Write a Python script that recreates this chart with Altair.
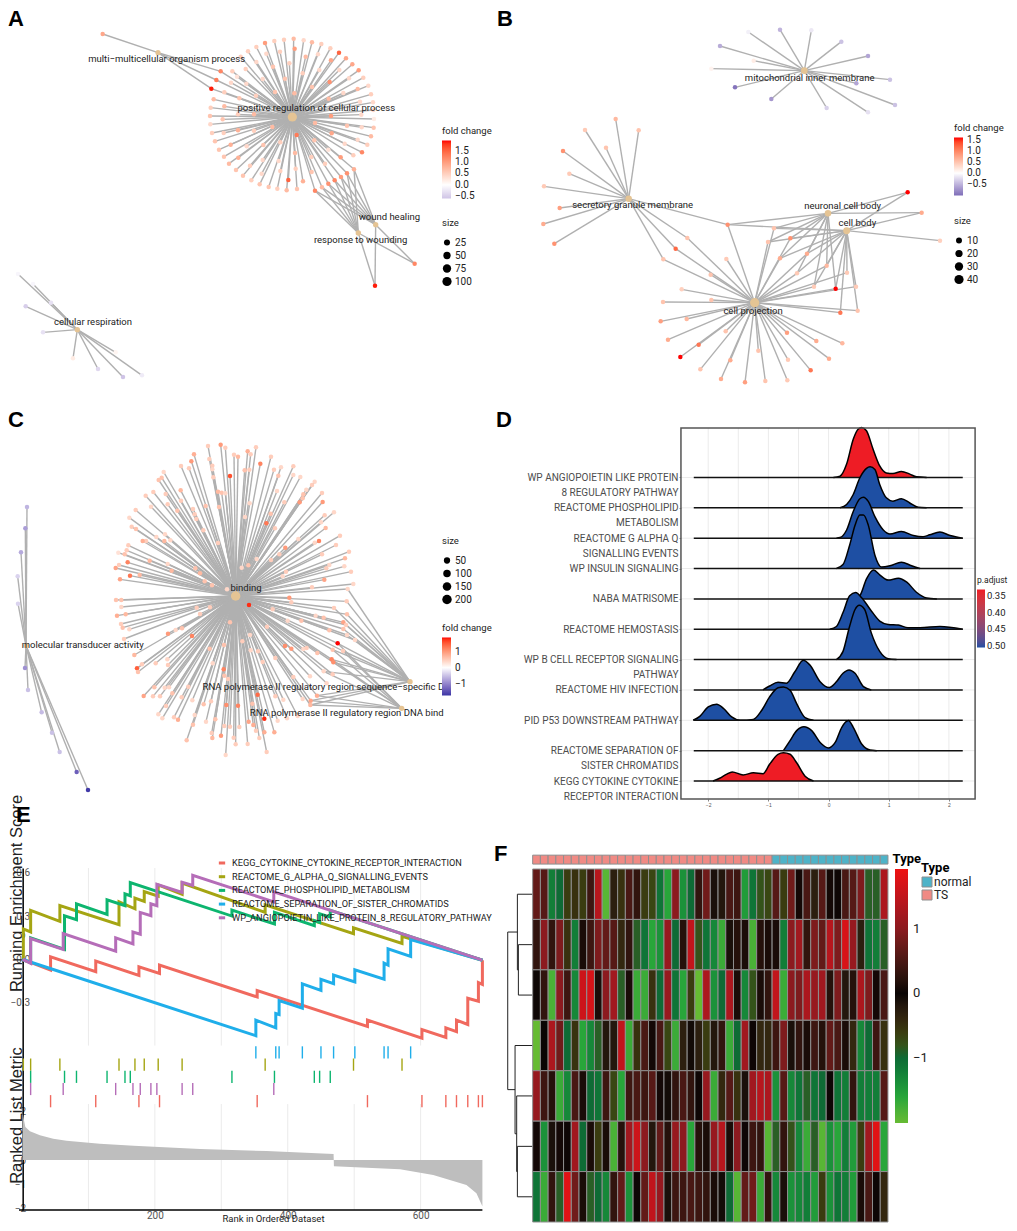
import json
import altair as alt
import pandas as pd

NARROW = "Roboto, sans-serif"
SANS = "Liberation Sans, Arial, sans-serif"
EDGE = "#B0B0B0"
TAN = "#E5C494"
W1, W2 = 492, 510

# ---------- panel A: gene-concept network (layout coordinates, fold change)
a_cats = {"pos": (877, 351, 100), "multi": (474, 158, 9), "wound": (1127, 674, 12), "resp": (1075, 699, 14), "cell": (232, 989, 12)}
a_labels = [("multi\u2212multicellular organism process", 500, 177), ("positive regulation of cellular process", 949, 325),
            ("wound healing", 1168, 652), ("response to wounding", 1082, 719), ("cellular respiration", 279, 967)]
a_pos = [(881,116,.7),(911,121,.4),(936,127,.7),(964,132,.5),(991,145,.5),(1017,158,1.5),(1038,175,.9),(1057,193,.9),(1076,211,1.0),(1090,233,.5),
 (1105,257,.4),(1113,283,.5),(1119,307,.4),(1120,330,.4),(1122,357,.2),(1121,383,.6),(1113,409,.7),(1102,434,.5),(1086,457,1.2),(1060,466,.5),
 (909,544,.8),(891,567,.6),(860,571,.7),(832,566,.5),(806,561,.6),(779,553,.6),(754,541,.5),(729,527,.6),(708,510,.6),(687,491,.7),(672,470,.6),
 (657,449,.6),(645,424,.6),(636,399,.5),(631,373,.4),(630,348,.6),(632,323,.5),(641,298,.7),(697,214,.5),(722,170,.5),(744,154,.5),(769,141,.5),
 (795,129,1.0),(823,123,.5),(852,119,.5),(884,146,1.0),(917,170,.7),(954,163,.4),(993,181,.9),(840,155,.5),(799,161,.4),(769,186,.4),(737,207,.5),
 (711,230,.3),(693,248,.4),(673,277,.5),(718,295,.6),(673,319,.7),(668,358,.6),(671,399,.5),(692,434,.8),(715,473,.8),(750,497,.5),(785,521,.4),
 (868,190,.5),(819,200,.6),(788,237,.4),(739,251,.4),(855,236,.6),(908,220,.5),(958,210,.4),(1018,210,.4),(1047,235,.4),(989,246,1.1),(936,261,.6),
 (1030,279,.4),(1073,267,.7),(883,280,.7),(825,276,.6),(768,287,.5),(986,296,.7),(1080,305,.4),(714,343,.5),(762,343,.7),(993,348,1.0),(1084,344,.4),
 (945,369,.7),(1041,377,.6),(1085,382,.4),(817,381,.7),(714,391,.8),(762,392,.5),(890,405,1.3),(995,400,.9),(1073,419,.4),(1034,431,.4),(943,421,.6),
 (841,427,.5),(790,435,.6),(740,439,.4),(985,449,.3),(1022,472,1.0),(885,459,.7),(934,471,.5),(788,480,.4),(836,483,.4),(975,491,.5),(887,506,.5),
 (935,516,.6),(841,513,.5),(865,540,1.5)]
a_pos_multi = [(634,266,1.9),(649,240,1.3),(662,214,1.2)]
a_multi = [(308,102,.9)]
a_pos_wound = [(945,572,1.2),(966,562,.7),(985,551,1.1),(1004,541,1.2),(1023,531,1.0),(1041,520,1.1),(1062,508,.8)]
a_wound = [(1244,791,1.2),(1125,857,1.9)]
a_cell = [(54,822,-.1),(99,852,-.1),(153,908,-.3),(77,919,-.5),(129,997,-.3),(219,1075,.2),(294,1107,-.4),(369,1131,-.6),(426,1126,-.2),(347,1057,.1)]
a_groups = [(["pos"], a_pos), (["pos", "multi"], a_pos_multi), (["multi"], a_multi), (["pos", "wound", "resp"], a_pos_wound),
            (["wound", "resp"], a_wound), (["cell"], a_cell)]

# ---------- panel B
b_cats = {"mito": (913, 212, 15), "sec": (386, 596, 14), "neu": (984, 640, 15), "body": (1040, 692, 18), "proj": (764, 908, 40)}
b_labels = [("mitochondrial inner membrane", 929, 234), ("secretory granule membrane", 398, 616), ("neuronal cell body", 1028, 618),
            ("cell body", 1072, 669), ("cell projection", 759, 932)]
b_mito = [(745,96,-.1),(840,89,-.5),(934,91,-.15),(1024,125,-.4),(1104,168,-.6),(660,138,-.55),(761,182,.15),(634,206,.1),(705,262,-.95),(814,297,-.7),
          (1170,239,-.4),(1069,250,-.6),(1185,315,-.4),(980,324,-.3),(1104,337,-.2)]
b_sec = [(347,357,.6),(255,390,.45),(416,391,.5),(318,443,.5),(189,453,.9),(208,521,.45),(132,559,.45),(179,624,.8),(130,672,.7),(163,731,.9)]
b_sec_proj = [(562,714,.5),(527,746,1.2),(490,778,.5)]
b_all = [(683,674,.9)]
b_proj = [(679,777,.45),(632,824,.5),(545,868,.4),(489,906,.5),(634,900,.5),(482,964,.8),(560,957,.6),(504,1019,.7),(677,994,.5),(596,1034,1.1),(541,1071,1.6),
          (601,1108,.5),(691,1081,.7),(663,1137,.7),(735,1147,.8),(775,1052,.5),(796,1143,.5),(864,1079,.45),(862,1141,.45),(861,998,.8),(932,1111,1.1),(949,1023,.7),
          (987,1076,.7),(1027,1030,.6)]
b_nbp = [(822,685,.5),(804,726,.5),(871,715,.9),(840,775,.7),(921,761,.7),(980,797,.6),(891,820,.45),(942,860,.45),(1007,866,1.6)]
b_bp = [(1041,818,.45),(1068,860,.45),(1073,932,.5),(1021,938,1.1)]
b_nb = [(1223,577,1.6),(1265,638,.7)]
b_body = [(1320,722,.4)]
b_groups = [(["mito"], b_mito), (["sec"], b_sec), (["sec", "proj"], b_sec_proj), (["sec", "neu", "body", "proj"], b_all), (["proj"], b_proj),
            (["neu", "body", "proj"], b_nbp), (["body", "proj"], b_bp), (["neu", "body"], b_nb), (["body"], b_body)]

# ---------- panel C
c_cats = {"bind": (707, 588, 200), "mol": (78, 737, 12), "rna1": (1230, 845, 20), "rna2": (1205, 925, 20)}
c_labels = [("binding", 738, 563), ("molecular transducer activity", 248, 736), ("RNA polymerase II regulatory region sequence\u2212specific DI", 974, 861),
            ("RNA polymerase II regulatory region DNA bind", 1040, 938)]
c_mol = [(81,321,-.6),(76,385,-.8),(63,457,-.7),(53,529,-.35),(54,611,-.35),(75,804,-.9),(84,870,-.5),(125,937,-.55),(156,998,-.5),(179,1056,-.5),(230,1116,-1.35),(264,1170,-1.7)]
c_bind = [(624,138,.5),(662,134,1.0),(676,143,.5),(582,163,.8),(702,164,.5),(714,170,.7),(743,154,.8),(768,142,.5),(752,163,.5),(781,191,1.2),(813,170,.5),(574,184,1.0),
 (628,177,.5),(637,197,.5),(543,198,.5),(567,205,.5),(690,228,1.6),(734,211,.6),(748,209,.5),(822,209,.5),(843,202,.4),(880,199,.5),(491,216,.4),(485,233,.6),(476,240,.6),(637,208,.4),
 (640,232,.5),(880,225,.4),(835,227,.6),(901,231,.4),(944,245,.4),(936,255,.5),(919,269,.4),(910,283,.6),(908,295,.6),(831,273,.4),(460,276,.5),(497,282,.5),(542,271,.7),(654,275,.7),
 (665,278,.6),(676,280,.4),(437,287,.5),(543,302,.5),(503,313,.5),(453,320,.4),(617,318,.6),(657,321,.6),(749,310,.4),(853,307,.5),(899,307,1.0),(968,306,1.0),(966,279,.5),(407,330,.5),
 (532,332,.6),(579,327,.5),(584,343,.5),(974,346,.5),(1002,337,.4),(388,353,.4),(589,357,.5),(735,351,.4),(812,341,.6),(963,367,.4),(799,370,1.3),(395,380,.5),(408,387,.6),(610,391,.5),
 (825,385,.5),(977,384,.7),(438,423,.5),(428,423,.8),(469,411,.4),(495,403,.4),(493,423,.7),(511,421,.4),(654,429,.5),(895,417,.4),(944,428,.4),(957,423,1.2),(1020,407,.5),(1008,435,.5),
 (385,436,.5),(380,451,.5),(355,458,.3),(374,463,.6),(856,443,1.0),(838,463,.5),(966,463,.5),(770,477,.4),(813,480,.5),(1047,455,.5),(1035,475,.7),(383,487,1.2),(449,482,.7),(503,492,.4),
 (725,503,.4),(745,496,.6),(988,495,.4),(979,505,.5),(1033,499,.4),(347,504,.9),(357,495,.5),(586,505,.6),(515,512,.7),(600,520,.7),(858,515,.5),(848,529,.4),(1053,515,.5),(390,527,1.3),
 (419,525,.7),(360,538,.9),(614,544,.6),(636,556,.6),(973,539,.9),(1060,552,.4),(936,562,.5),(1043,567,.4),(681,568,.4),(868,593,1.0),(874,607,.5),(747,615,1.8),(348,600,.6),(364,600,.6),
 (364,621,.4),(1040,604,.5),(590,623,.5),(630,622,.5),(818,628,.5),(1002,624,.5),(1041,643,.6),(351,647,.8),(377,643,.7),(600,642,.5),(947,647,.4),(971,653,.6),(1030,667,.9),(1038,675,.5),
 (863,662,.4),(904,662,.6),(690,667,.6),(363,672,.5),(368,683,.6),(388,688,.4),(801,680,.5),(546,685,.6),(527,690,.4),(504,701,1.0),(1030,687,.6),(988,691,.6),(750,705,.4),(1041,705,.4),
 (576,708,1.2),(1065,720,.4),(372,717,.5),(1013,730,1.9),(727,724,.5),(672,735,.6),(855,738,1.1),(874,746,1.0),(910,747,.4),(920,744,.5),(952,759,.6),(998,749,.6),(1029,753,.5),(629,746,.6),
 (752,751,.4),(774,754,.5),(403,765,.7),(826,774,.5),(995,778,1.2),(1000,787,1.1),(502,778,.4),(426,793,.5),(467,790,.5),(411,805,1.5),(414,816,.6),(504,795,.5),(638,790,.4),(671,808,1.2),
 (788,786,.5),(971,814,.4),(998,823,.5),(673,827,.6),(684,837,.5),(880,831,.5),(930,829,.4),(980,850,.4),(463,862,.6),(494,863,.4),(507,862,.4),(565,860,.5),(517,880,.6),(773,884,1.4),
 (826,889,.5),(431,888,.9),(459,889,.5),(480,889,.5),(545,892,.5),(577,901,.4),(633,904,.5),(611,913,.6),(757,911,.6),(679,915,1.1),(714,917,1.2),(850,899,.4),(908,897,.4),(951,887,.8),
 (932,902,.9),(931,915,.7),(498,918,.5),(475,943,.4),(487,955,.4),(522,952,.5),(534,959,.8),(584,945,.4),(618,965,.4),(646,958,.6),(746,965,.9),(760,975,.8),(793,956,1.8),(833,962,.4),
 (861,955,.4),(893,948,.4),(579,974,.6),(673,978,.5),(690,980,.5),(718,981,.5),(768,992,.5),(635,999,.5),(637,1014,.7),(663,1007,1.0),(701,1013,.5),(778,1014,.5),(793,997,.8),(823,997,.8),
 (560,1021,.6),(707,1033,.5),(743,1032,.5),(677,1065,.4),(800,1056,.5)]
c_rna_nodes = [(1043,567),(1040,604),(1041,643),(1030,667),(1038,675),(1030,687),(1002,624),(1041,705),(1065,720),(1013,730),(998,749),(1029,753),(995,778),(1000,787),(971,814),(951,887),(932,902),(931,915)]
c_groups = [(["mol"], c_mol), (["bind"], c_bind)]
c_extra_edges = [(x, y, "rna1") for x, y in c_rna_nodes] + [(x, y, "rna2") for x, y in c_rna_nodes[9:]]

LEG = dict(titleFont=NARROW, titleFontSize=9.5, titleFontWeight="normal", titleColor="#222", labelFont=NARROW, labelFontSize=10, labelColor="#222")


def legend_fold(x, y, values, fmt):
    return alt.Legend(orient="none", legendX=x, legendY=y, title="fold change", values=values, gradientLength=58, gradientThickness=9,
                      titlePadding=5, labelOffset=4, gradientStrokeWidth=0, labelOverlap=False, format=fmt, **LEG)


def legend_size(x, y, values):
    return alt.Legend(orient="none", legendX=x, legendY=y, title="size", values=values, symbolOpacity=1, symbolStrokeWidth=0,
                      titlePadding=10, labelOffset=3, rowPadding=3, **LEG)


def network(groups, cats, labels, domx, domy, w, h, cscale, sscale, lfold, lsize, extra=()):
    nodes, edges = [], []
    for members, genes in groups:
        for g in genes:
            nodes.append({"x": g[0], "y": g[1], "fc": g[2]})
            for m in members:
                edges.append({"x": g[0], "y": g[1], "x2": cats[m][0], "y2": cats[m][1]})
    for x, y, m in extra:
        edges.append({"x": x, "y": y, "x2": cats[m][0], "y2": cats[m][1]})
    cdf = pd.DataFrame([{"x": v[0], "y": v[1], "size": v[2]} for v in cats.values()])
    tdf = pd.DataFrame([{"t": t, "x": x, "y": y} for t, x, y in labels])
    X = alt.X("x:Q", scale=alt.Scale(domain=domx), axis=None)
    Y = alt.Y("y:Q", scale=alt.Scale(domain=domy), axis=None)
    e = alt.Chart(pd.DataFrame(edges)).mark_rule(color=EDGE, strokeWidth=1.4).encode(X, Y, x2="x2:Q", y2="y2:Q")
    n = alt.Chart(pd.DataFrame(nodes)).mark_circle(size=20, opacity=1).encode(X, Y, color=alt.Color("fc:Q", scale=cscale, legend=lfold))
    s = alt.Chart(cdf).mark_circle(color="black", opacity=0).encode(X, Y, size=alt.Size("size:Q", scale=sscale, legend=lsize))
    c = alt.Chart(cdf).mark_circle(color=TAN, opacity=1).encode(X, Y, size=alt.Size("size:Q", scale=sscale, legend=None))
    t = alt.Chart(tdf).mark_text(font=NARROW, fontSize=9.5, color="#222").encode(X, Y, text="t:N")
    return [e, n, s, c, t]


def letter(s, x, y):
    return alt.Chart(pd.DataFrame({"t": [s]})).mark_text(font=SANS, fontSize=22, fontWeight="bold", color="black", align="left", baseline="top").encode(
        x=alt.value(x), y=alt.value(y), text="t:N")


def fc_scale(lo, hi, locol):
    return alt.Scale(domain=[lo, 0, hi], range=[locol, "#FFFFFF", "#FF0000"], interpolate="lab")


A = alt.layer(*network(a_groups, a_cats, a_labels, [24, 1500], [1077, 24], W1, 351, fc_scale(-.6, 1.95, "#CFC4E6"),
            alt.Scale(domain=[5, 100], range=[24, 85]), legend_fold(434, 118, [-.5, 0, .5, 1, 1.5], ".1f"), legend_size(434, 210, [25, 50, 75, 100])),
              letter("A", 0, 1)).properties(width=W1, height=351)
B = alt.layer(*network(b_groups, b_cats, b_labels, [0, 1530], [1077, 24], W2, 351, fc_scale(-1.0, 1.6, "#7E6DB8"),
            alt.Scale(domain=[3, 40], range=[24, 85]), legend_fold(454, 115, [-.5, 0, .5, 1, 1.5], ".1f"), legend_size(454, 208, [10, 20, 30, 40])),
              letter("B", -3, 1)).properties(width=W2, height=351)
C = alt.layer(*network(c_groups, c_cats, c_labels, [24, 1500], [1197, 84], W1, 371, fc_scale(-1.75, 1.9, "#3A35A5"),
            alt.Scale(domain=[5, 200], range=[24, 90]), legend_fold(434, 195, [-1, 0, 1], "d"), legend_size(434, 108, [50, 100, 150, 200]), c_extra_edges),
              letter("C", 0, -18)).properties(width=W1, height=371)

# ---------- panel D: ridgeline
d_terms = [["KEGG CYTOKINE CYTOKINE", "RECEPTOR INTERACTION"], ["REACTOME SEPARATION OF", "SISTER CHROMATIDS"], ["PID P53 DOWNSTREAM PATHWAY"],
           ["REACTOME HIV INFECTION"], ["WP B CELL RECEPTOR SIGNALING", "PATHWAY"], ["REACTOME HEMOSTASIS"], ["NABA MATRISOME"], ["WP INSULIN SIGNALING"],
           ["REACTOME G ALPHA Q", "SIGNALLING EVENTS"], ["REACTOME PHOSPHOLIPID", "METABOLISM"], ["WP ANGIOPOIETIN LIKE PROTEIN", "8 REGULATORY PATHWAY"]]
d_padj = [.33, .505, .505, .505, .505, .505, .505, .505, .505, .505, .33]
d_ridge = {
 11: ([.08,.19,.30,.41,.49,.55,.63,.74,.85,.96,1.07,1.21,1.35,1.46,1.63], [0,.04,.44,1.26,1.59,1.65,1.54,.93,.38,.15,.13,.20,.11,.02,0]),
 10: ([.19,.30,.41,.52,.63,.69,.77,.85,.96,1.07,1.21,1.35,1.49,1.63], [0,.11,.44,.99,1.30,1.35,1.26,.77,.33,.22,.30,.16,.02,0]),
 9: ([.13,.19,.30,.41,.52,.58,.66,.77,.91,1.02,1.21,1.41,1.57,1.68,1.85,2.02,2.23], [0,.02,.27,.88,1.30,1.35,1.21,.71,.27,.14,.22,.09,.05,.11,.20,.09,0]),
 8: ([.13,.24,.35,.44,.52,.58,.66,.77,.88,1.02,1.21,1.38,1.52], [0,.13,.77,1.43,1.76,1.76,1.43,.44,.05,.09,.21,.09,0]),
 7: ([.41,.52,.63,.75,.85,.99,1.16,1.30,1.46,1.63,1.80], [0,.11,.66,.95,.79,.62,.68,.55,.22,.03,0]),
 6: ([.02,.13,.24,.35,.45,.55,.69,.85,.99,1.16,1.32,1.52,1.85,2.23], [0,.09,.55,1.10,1.21,1.04,.66,.27,.16,.14,.05,.05,.09,0]),
 5: ([.13,.24,.35,.44,.51,.60,.71,.85,.99,1.13], [0,.27,1.10,1.65,1.79,1.65,.88,.27,.03,0]),
 4: ([-1.09,-.98,-.84,-.70,-.56,-.42,-.31,-.14,.01,.13,.24,.34,.44,.58,.71], [0,.13,.25,.22,.60,.98,.82,.27,.08,.27,.55,.66,.55,.11,0]),
 3: ([-2.25,-2.14,-2.0,-1.86,-1.74,-1.61,-1.47,-1.25,-1.11,-.98,-.84,-.75,-.64,-.53,-.39,-.25], [0,.13,.44,.53,.38,.11,0,.03,.33,.77,1.07,1.10,.99,.55,.09,0]),
 2: ([-.75,-.64,-.53,-.41,-.28,-.14,0,.11,.22,.33,.41,.55,.69,.80], [0,.33,.66,.79,.66,.27,.09,.27,.77,.99,.77,.22,.02,0]),
 1: ([-1.92,-1.81,-1.70,-1.60,-1.42,-1.25,-1.09,-.98,-.84,-.75,-.64,-.53,-.39,-.25], [0,.09,.22,.30,.20,.27,.24,.55,.88,.93,.88,.60,.16,0]),
}
d_grid_x = [-2, -1.5, -1, -.5, 0, .5, 1, 1.5, 2]
d_xdom, d_ydom = [-5.46, 3.015], [.407, 12.63]
d_ax = alt.Axis(values=[-2, -1, 0, 1, 2], domain=False, grid=False, title=None, labelFontSize=5, labelColor="#555", tickSize=2, labelPadding=1, format="d")
d_ay = alt.Axis(values=list(range(1, 12)), orient="left", offset=-181, domain=False, grid=False, title=None, tickSize=2,
                labelFont=NARROW, labelFontSize=10, labelColor="#4D4D4D", labelLineHeight=15, labelOverlap=False, labelPadding=1, labelBound=False, labelFlush=False, labelLimit=300,
                labelExpr=json.dumps(d_terms) + "[datum.value-1]")
dX = lambda f="x": alt.X(f"{f}:Q", scale=alt.Scale(domain=d_xdom), axis=d_ax)
dY = lambda f="y": alt.Y(f"{f}:Q", scale=alt.Scale(domain=d_ydom), axis=d_ay)
d_color = alt.Color("p:Q", scale=alt.Scale(domain=[-.505, -.33], range=["#1E4FA3", "#EE1C25"], interpolate="lab"),
                    legend=alt.Legend(orient="none", legendX=477, legendY=148, title="p.adjust", values=[-.35, -.40, -.45, -.50], gradientLength=58, gradientThickness=8,
                                      titlePadding=5, labelOffset=2, labelExpr="format(-datum.value,'.2f')", gradientStrokeWidth=0, labelOverlap=False, **{**LEG, "titleFontSize": 8.5, "labelFontSize": 9.5}))
d_layers = [
    alt.Chart(pd.DataFrame({"x": d_grid_x, "y": [d_ydom[0]] * 9, "y2": [d_ydom[1]] * 9})).mark_rule(color="#EBEBEB", strokeWidth=1).encode(dX(), dY(), y2="y2:Q"),
    alt.Chart(pd.DataFrame({"x": [-2.453] * 11, "x2": [2.435] * 11, "y": list(range(1, 12))})).mark_rule(color="#EBEBEB", strokeWidth=1).encode(dX(), dY(), x2="x2:Q"),
]
for lane in range(11, 0, -1):
    xs, hs = d_ridge[lane]
    df = pd.DataFrame({"x": xs, "y": [lane + h for h in hs], "y0": [lane] * len(xs), "p": [-d_padj[lane - 1]] * len(xs)})
    d_layers.append(alt.Chart(df).mark_area(interpolate="monotone", opacity=1).encode(dX(), dY(), y2="y0:Q", color=d_color))
    d_layers.append(alt.Chart(df).mark_line(interpolate="monotone", color="black", strokeWidth=1.5).encode(dX(), dY()))
    d_layers.append(alt.Chart(pd.DataFrame({"x": [-2.24], "x2": [2.23], "y": [lane]})).mark_rule(color="#111", strokeWidth=1.5).encode(dX(), dY(), x2="x2:Q"))
d_layers.append(alt.Chart(pd.DataFrame({"x": [-2.453], "x2": [2.435], "y": [d_ydom[0]], "y2": [d_ydom[1]]})).mark_rect(fillOpacity=0, stroke="#555", strokeWidth=1.5).encode(dX(), dY(), x2="x2:Q", y2="y2:Q"))
D = alt.layer(*d_layers, letter("D", -4, -18)).properties(width=W2, height=371)

# ---------- panel E: GSEA
e_names = ["KEGG_CYTOKINE_CYTOKINE_RECEPTOR_INTERACTION", "REACTOME_G_ALPHA_Q_SIGNALLING_EVENTS", "REACTOME_PHOSPHOLIPID_METABOLISM",
           "REACTOME_SEPARATION_OF_SISTER_CHROMATIDS", "WP_ANGIOPOIETIN_LIKE_PROTEIN_8_REGULATORY_PATHWAY"]
e_colors = ["#F0695E", "#A5A513", "#0DB56F", "#1FAEEA", "#B56DB8"]
e_red = [(43,-.073,.018),(111,-.085,-.011),(176,-.110,-.050),(207,-.096,-.039),(354,-.259,-.215),(520,-.463,-.419),(602,-.543,-.485),(638,-.538,-.472),(654,-.499,-.419),(671,-.449,-.268),(687,-.289,-.160),(693,-.172,-.005)]
e_blue = [(352,-.527,-.419),(382,-.472,-.373),(387,-.380,-.284),(422,-.337,-.169),(450,-.213,-.137),(469,-.167,-.108),(501,-.156,-.071),(545,-.137,-.025),(551,-.039,.073),(585,.021,.137)]
e_olive = [(2,0,.211),(13,.190,.339),(57,.263,.373),(146,.240,.398),(170,.350,.424),(184,.401,.469),(205,.437,.515),(241,.451,.527),(366,.325,.378),(499,.179,.218),(572,.110,.160)]
e_green = [(13,-.023,.149),(64,.069,.302),(82,.275,.385),(128,.311,.412),(155,.371,.453),(163,.440,.531),(316,.300,.341),(380,.245,.325),(440,.234,.268),(448,.256,.316),(464,.293,.339)]
e_purple = [(13,-.027,.144),(62,.069,.179),(141,.057,.149),(167,.108,.190),(178,.174,.325),(194,.302,.385),(203,.371,.520),(241,.463,.534),(257,.511,.582),(379,.398,.467)]
e_series = [e_red, e_olive, e_green, e_blue, e_purple]
e_rug_lane = [4, 1, 2, 0, 3]
e_rank = [1,3,5,12,27,47,67,117,168,268,368,469,469.5,569,619,669,684,693]
e_metric = [1.97,1.63,1.36,1.18,1.02,.88,.79,.67,.585,.45,.37,.245,-.25,-.38,-.61,-1.02,-1.36,-1.9]
e_grid = [100, 200, 300, 400, 500, 600]
rows, rug = [], []
for nm, hits, lane in zip(e_names, e_series, e_rug_lane):
    i = 0
    rows.append({"term": nm, "i": i, "rank": 1, "es": 0.0})
    for r, before, after in hits:
        rows += [{"term": nm, "i": i + 1, "rank": r, "es": before}, {"term": nm, "i": i + 2, "rank": r, "es": after}]
        rug.append({"term": nm, "rank": r, "a": lane, "b": lane + 1})
        i += 2
    if hits[-1][0] != 693:
        rows.append({"term": nm, "i": i + 1, "rank": 693, "es": -.005})
es_dom, rk_dom, lane_dom = [-1.731, .632], [-2.05, 11.99], [13.42, -14.62]
e_ax = alt.Axis(values=[200, 400, 600], domain=False, grid=False, ticks=False, labelFont=NARROW, labelFontSize=10, labelColor="#555", labelPadding=0,
                title="Rank in Ordered Dataset", titleFont=NARROW, titleFontSize=9.5, titleFontWeight="normal", titleColor="#222", titleX=265, titleY=8.5, titleBaseline="middle")
eX = alt.X("rank:Q", scale=alt.Scale(domain=[-21.08, 719.5]), axis=e_ax)
e_leg = alt.Legend(orient="none", legendX=209, legendY=-10, title=None, symbolType="stroke", symbolStrokeWidth=3, symbolSize=40, labelFont=NARROW, labelFontSize=9.2, labelColor="#222",
                   labelLimit=320, rowPadding=1.7, labelOffset=5)
e_color = alt.Color("term:N", scale=alt.Scale(domain=e_names, range=e_colors), legend=e_leg)
gridx = pd.DataFrame({"rank": e_grid})
e1 = alt.Chart(gridx.assign(a=.632, b=-.595)).mark_rule(color="#EBEBEB").encode(eX, alt.Y("a:Q", scale=alt.Scale(domain=es_dom), axis=None), y2="b:Q")
e2 = alt.Chart(gridx.assign(a=2.3, b=-2.05)).mark_rule(color="#EBEBEB").encode(eX, alt.Y("a:Q", scale=alt.Scale(domain=rk_dom), axis=None), y2="b:Q")
e3 = alt.Chart(pd.DataFrame(rows)).mark_line(strokeWidth=3, strokeJoin="miter").encode(
    eX, alt.Y("es:Q", scale=alt.Scale(domain=es_dom),
              axis=alt.Axis(orient="left", offset=-14.67, values=[-.3, 0, .3, .6], format=".1f", grid=False, ticks=False, domainColor="black", domainWidth=1.5,
                            labelFont=NARROW, labelFontSize=10, labelColor="#555", labelPadding=-7, title="Running Enrichment Score", titleFont=SANS, titleFontSize=16.5, titleFontWeight="normal",
                            titleColor="#222", titleX=-6.5, titleY=25, titleAngle=-90, titleBaseline="middle", titleAnchor="middle", titleAlign="center")),
    color=e_color, order="i:Q")
e4 = alt.Chart(pd.DataFrame(rug)).mark_rule(strokeWidth=1.4).encode(eX, alt.Y("a:Q", scale=alt.Scale(domain=lane_dom), axis=None), y2="b:Q", color=e_color)
e5 = alt.Chart(pd.DataFrame({"rank": e_rank, "m": e_metric, "z": [0] * len(e_rank)})).mark_area(color="#BEBEBE", opacity=1).encode(
    eX,
    alt.Y("m:Q", scale=alt.Scale(domain=rk_dom),
          axis=alt.Axis(orient="left", offset=-14.67, values=[-2, -1, 0, 1, 2], format="d", domain=False, grid=False, ticks=False, labelFont=NARROW, labelFontSize=10, labelColor="#555", labelPadding=-3,
                        title="Ranked List Metric", titleFont=SANS, titleFontSize=16.5, titleFontWeight="normal", titleColor="#222", titleX=-6.5, titleY=247, titleAngle=-90, titleBaseline="middle", titleAnchor="middle", titleAlign="center")),
    y2="z:Q")
e6 = alt.Chart(pd.DataFrame({"rank": [-4.5], "r2": [693], "y": [-2.05]})).mark_rule(color="black", strokeWidth=1.5).encode(eX, alt.Y("y:Q", scale=alt.Scale(domain=rk_dom), axis=None), x2="r2:Q")
E = alt.layer(e1, e2, e5, e4, e3, e6, letter("E", 8, -63)).resolve_scale(y="independent").properties(width=W1, height=342)

# ---------- panel F: heatmap
f_values = [
 [.7,.6,-1.2,-1.0,-.6,-.5,-.6,.4,1.4,-1.9,-.3,-.5,.5,.3,-.6,-.7,-1.1,-1.6,1.0,-1.4,-1.0,.3,.8,-.1,-.2,.5,.4,-1.5,-1.1,-.8,-.7,.6,-.6,.8,.05,.5,-.3,.6,.05,.02,.5,.6,.9,-.9,-.9,1.3],
 [.3,1.0,.3,.9,-.5,-1.2,.1,.4,.9,.7,.6,-.4,.3,-.9,-1.1,-1.6,-1.4,1.1,-1.0,.2,1.5,-.8,-1.1,-1.3,-1.7,-.1,.2,.1,-1.8,.2,.1,.1,-1.2,1.0,1.2,.3,.9,.7,1.4,.9,1.7,1.1,-.3,-1.1,-1.2,-.9],
 [-.02,.3,-1.8,1.0,.4,-1.3,1.6,1.7,.1,1.0,1.2,-.9,.1,-1.7,-1.7,-.5,-1.0,1.1,-1.1,-1.6,-.6,-2.0,1.3,-1.4,-1.0,1.3,.1,-1.3,-.8,.1,.3,1.5,-1.7,1.0,.9,1.3,1.1,1.2,.2,.9,-.2,.2,1.3,.9,.05,.5],
 [-2,.0,1.3,.8,-1,-.5,-1.6,-1.3,-.9,-.2,-.2,1.5,-1.7,-.5,.5,.05,.5,-.7,-1.7,-.3,-.05,-.3,-.6,-.2,.3,-1.7,-1,1.2,.02,-.4,-.4,.4,.9,-.1,.3,.1,.4,.2,.7,.5,.1,-.4,-1.3,-1,.4,-.5],
 [1.1,.4,.2,-1.7,-1.3,.5,.1,-1.0,-1.1,.4,-.7,-1.6,.4,.5,.4,.6,.05,-.05,.3,.5,.3,.02,1.1,-1.7,-.4,.6,-.5,-.1,1.2,1.4,1.3,-1.4,.6,-1.3,-1.1,-.9,-1.1,-1.0,.02,-1.1,-1.2,.3,-1.2,-1.2,-1.2,.6],
 [.05,-1.4,-.1,.05,.02,1.2,-1.0,.1,-.6,.1,-1.8,.2,1.2,1.6,1.0,-.2,.7,.2,1.1,1.0,-1.6,.2,.1,1.1,1.4,.1,1.0,.02,.4,.3,-1.9,-.9,.3,-.8,-1.3,-1.7,-.9,-1.9,-1.4,-1.6,-1.2,-1.5,-.6,1.2,1.8,-1.6],
 [-1.1,-1.7,.3,-.9,1.8,.8,.1,-.9,-1.0,-1.3,.3,.7,-1.4,.02,.7,1.5,1.1,-.1,.4,.4,.5,.4,.3,.1,-.05,-1.0,-1.9,.7,.8,-1.7,.3,-1.3,-.1,-1.4,-1.3,-1.2,-1.5,-.6,-1.4,-1.1,-1.2,-1.5,.1,.5,.02,-.4],
]
f_types = ["TS"] * 31 + ["normal"] * 15
f_dendro = [(-1.98,0,.5,.5),(-1.85,0,1.5,1.5),(-1.85,0,2.5,2.5),(-2.28,0,3.5,3.5),(-2.07,0,4.5,4.5),(-1.98,0,5.5,5.5),(-1.98,0,6.5,6.5),
            (-1.85,-1.85,1.5,2.5),(-1.98,-1.85,2,2),(-1.98,-1.98,.5,2),(-3.23,-1.98,1.25,1.25),(-1.98,-1.98,5.5,6.5),(-2.07,-1.98,6,6),(-2.07,-2.07,4.5,6),
            (-2.28,-2.07,5.25,5.25),(-2.28,-2.28,3.5,5.25),(-3.23,-2.28,4.375,4.375),(-3.23,-3.23,1.25,4.375)]
f_xdom, f_ydom = [-4.23, 61.8], [7.0, -.02]
fX = alt.X("c0:Q", scale=alt.Scale(domain=f_xdom), axis=None)
fY = alt.Y("r0:Q", scale=alt.Scale(domain=f_ydom), axis=None)
cells = [{"c0": c, "c1": c + 1, "r0": r, "r1": r + 1, "v": v} for r, row in enumerate(f_values) for c, v in enumerate(row)]
f_heat = alt.Chart(pd.DataFrame(cells)).mark_rect(stroke="#8F8F8F", strokeWidth=1).encode(
    fX, fY, x2="c1:Q", y2="r1:Q",
    color=alt.Color("v:Q", scale=alt.Scale(domain=[-2.0, -1.6, -1, 0, 1, 1.92], range=["#66BB33", "#28A63A", "#0E6B35", "#0A0504", "#8C1A1F", "#EE1111"]),
                    legend=alt.Legend(orient="none", legendX=395, legendY=1, title=None, values=[-1, 0, 1], gradientLength=254, gradientThickness=13, gradientStrokeWidth=0, labelFont=NARROW, labelFontSize=13, labelColor="#222", labelOffset=5, format="d", labelOverlap=False)))
ann = pd.DataFrame({"c0": list(range(46)), "c1": list(range(1, 47)), "r0": [-.275] * 46, "r1": [-.098] * 46, "Type": f_types})
f_ann = alt.Chart(ann).mark_rect(stroke="#8F8F8F", strokeWidth=1).encode(
    fX, fY, x2="c1:Q", y2="r1:Q",
    color=alt.Color("Type:N", scale=alt.Scale(domain=["normal", "TS"], range=["#4EB3C8", "#F08A84"]),
                    legend=alt.Legend(orient="none", legendX=421, legendY=-6, title="Type", symbolType="square", symbolSize=100, symbolStrokeColor="#8F8F8F", symbolStrokeWidth=1, symbolOpacity=1,
                                      titleFont=NARROW, titleFontSize=13, titleFontWeight="bold", titleColor="black", titlePadding=1, labelFont=NARROW, labelFontSize=12, labelColor="#222", rowPadding=-2, labelOffset=1)))
f_den = alt.Chart(pd.DataFrame(f_dendro, columns=["c0", "c1", "r0", "r1"])).mark_rule(color="#222", strokeWidth=1).encode(fX, fY, x2="c1:Q", y2="r1:Q")
f_txt = alt.Chart(pd.DataFrame({"t": ["Type"], "c0": [46.6], "r0": [-.19]})).mark_text(font=NARROW, fontSize=13, fontWeight="bold", color="black", align="left").encode(fX, fY, text="t:N")
F = alt.layer(f_den, f_heat, f_ann, f_txt, letter("F", -6, -24)).resolve_scale(color="independent").properties(width=W2, height=354)

chart = alt.concat(A, B, C, D, E, F, columns=2, spacing={"row": 69, "column": 0}, bounds="flush").resolve_scale(color="independent", size="independent").properties(
    padding=0, autosize=alt.AutoSizeParams(type="none"), usermeta={"embedOptions": {"width": 1001, "height": 1215}}).configure_view(stroke=None)
chart.save("out.html", embed_options={"renderer": "svg", "actions": False})
